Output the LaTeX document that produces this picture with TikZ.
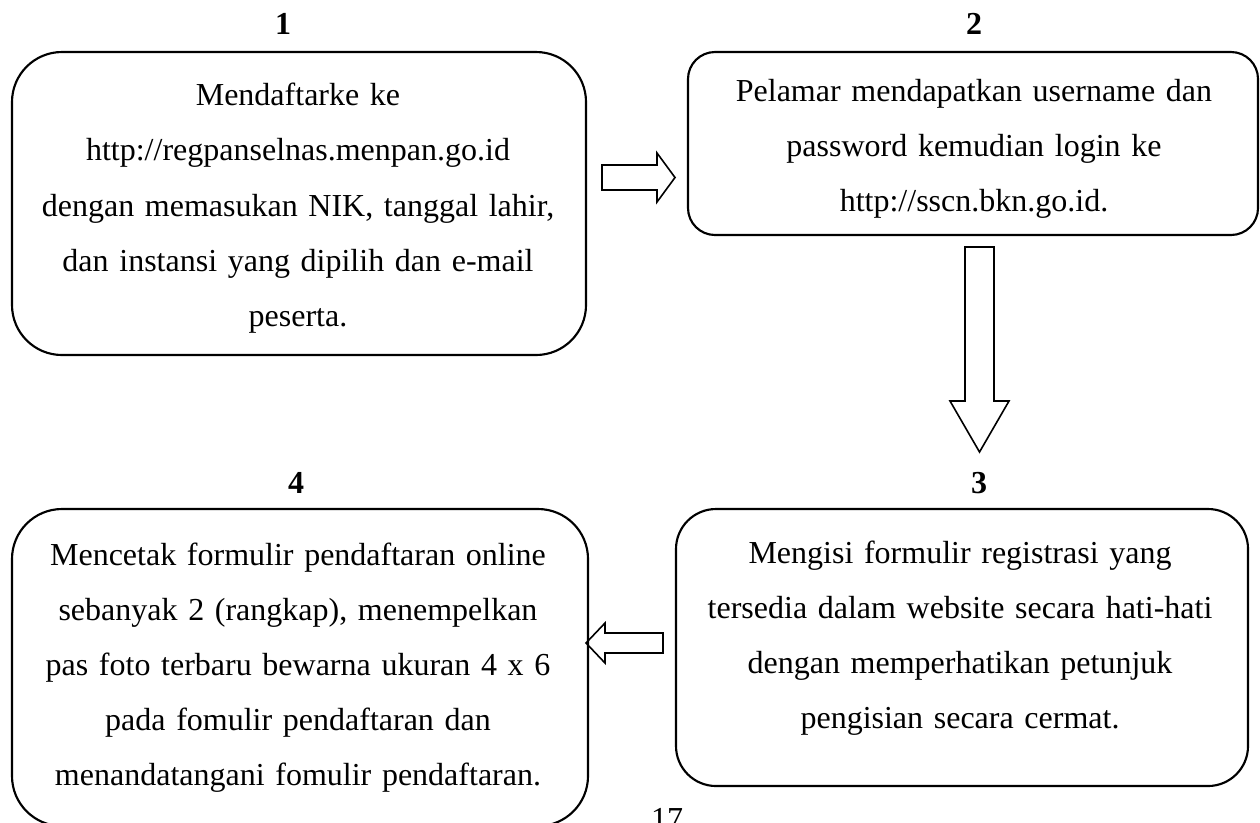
\documentclass[tikz,border=0pt]{standalone}
\usepackage{fontspec}
\setmainfont{Liberation Serif}
\usepackage{tikz}
\usepackage{xcolor}
\usetikzlibrary{calc,positioning}
\tikzset{
  stepbox/.style={draw,line width=0.8pt,inner sep=0pt},
  steptext/.style={anchor=base,align=center,text width=210pt,inner sep=0pt,font=\fontsize{12}{20.7}\selectfont},
  stepnum/.style={anchor=base,inner sep=0pt,font=\fontsize{12}{14}\selectfont\bfseries},
  blockarrow/.style={draw,line width=0.6pt,line join=miter}
}

\begin{document}
\begin{tikzpicture}[x=0.375pt,y=-0.375pt]
\useasboundingbox (0,0) rectangle (1260,822);
% boxes
\node[stepbox,rounded corners=18.75pt,minimum width=215.25pt,minimum height=113.625pt] (b1) at (299,203.5) {};
\node[stepbox,rounded corners=10.125pt,minimum width=213.75pt,minimum height=68.625pt] (b2) at (973,143.5) {};
\node[stepbox,rounded corners=15pt,minimum width=214.5pt,minimum height=103.875pt] (b3) at (962,647.5) {};
\node[stepbox,rounded corners=18.75pt,minimum width=216pt,minimum height=118.875pt] (b4) at (300,667.5) {};
% numbers
\node[stepnum] (n1) at (283,34) {1};
\node[stepnum] (n2) at (974,34) {2};
\node[stepnum] (n3) at (979,493) {3};
\node[stepnum] (n4) at (296,493) {4};
% texts
\node[steptext] (t1) at (298,105.7) {Mendaftarke ke\\http://regpanselnas.menpan.go.id\\dengan memasukan NIK, tanggal lahir,\\dan instansi yang dipilih dan e-mail\\peserta.};
\node[steptext] (t2) at (974,101) {Pelamar mendapatkan username dan\\password kemudian login ke\\http://sscn.bkn.go.id.};
\node[steptext] (t3) at (960,563) {Mengisi formulir registrasi yang\\tersedia dalam website secara hati-hati\\dengan memperhatikan petunjuk\\pengisian secara cermat.};
\node[steptext] (t4) at (298,565) {Mencetak formulir pendaftaran online\\sebanyak 2 (rangkap), menempelkan\\pas foto terbaru bewarna ukuran 4 x 6\\pada fomulir pendaftaran dan\\menandatangani fomulir pendaftaran.};
% arrows
\draw[blockarrow] (602,165) -- (657,165) -- (657,153) -- (675,177.5) -- (657,202) -- (657,190) -- (602,190) -- cycle;
\draw[blockarrow] (965,247) -- (994,247) -- (994,401) -- (1009,401) -- (979.5,452) -- (950,401) -- (965,401) -- cycle;
\draw[blockarrow] (663,633) -- (605,633) -- (605,623) -- (586,643) -- (605,663) -- (605,653) -- (663,653) -- cycle;
% page number
\node[anchor=base,inner sep=0pt,font=\fontsize{12}{14}\selectfont] (pg) at (667,829) {17};
\end{tikzpicture}
\end{document}
